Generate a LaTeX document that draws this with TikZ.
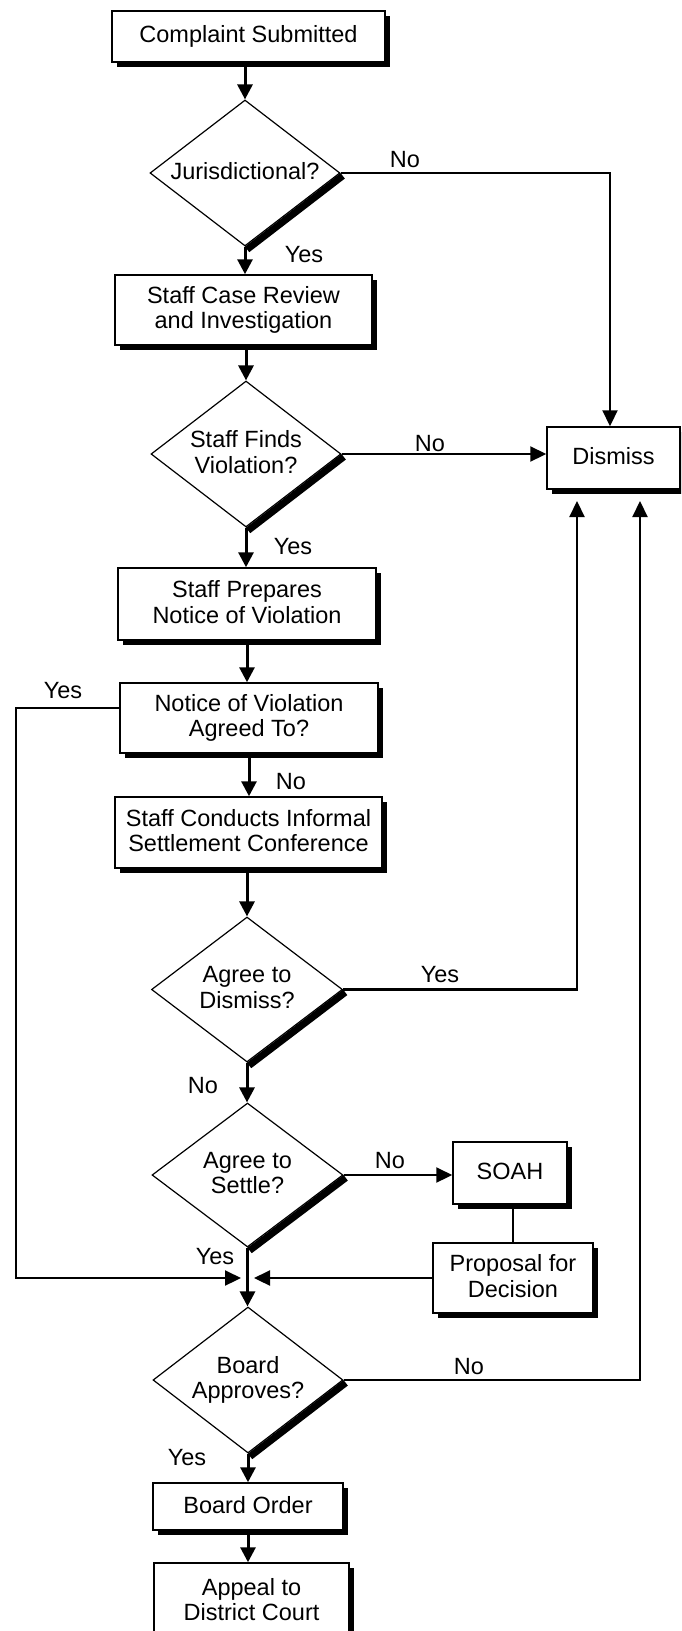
\documentclass[tikz,border=0pt]{standalone}
\usepackage{fontspec}
\setmainfont{Liberation Sans}
\usetikzlibrary{shapes.geometric,arrows.meta,shadows,calc}
\newcommand{\mystrut}{\rule[-4pt]{0pt}{20.8pt}}
\begin{document}
\begin{tikzpicture}[x=1pt,y=-1pt,
  every node/.style={font=\fontsize{23.5}{25.5}\selectfont,
    execute at begin node=\mystrut, execute at end node=\mystrut},
  box/.style={draw,line width=1.5pt,fill=white,align=center,inner sep=0pt,
    drop shadow={shadow xshift=5pt,shadow yshift=-5pt,fill=black,opacity=1}},
  dec/.style={draw,diamond,line width=1.2pt,fill=white,align=center,inner sep=0pt,aspect=1.3},
  edge6/.style={line width=7pt},
  main/.style={line width=3pt,-{Triangle[width=15pt,length=15pt]}},
  conn/.style={line width=2.2pt},
  arr/.style={-{Triangle[width=15pt,length=16pt]}},
  lbl/.style={inner sep=0pt}]
\useasboundingbox (0,0) rectangle (681,1631);
\clip (0,0) rectangle (681,1631);
\fill[white] (0,0) rectangle (681,1631);

% boxes
\node[box,minimum width=273pt,minimum height=51pt] (cs) at (248.5,36.5) {Complaint Submitted};
\node[box,minimum width=257pt,minimum height=70pt] (scr) at (243.5,310) {Staff Case Review\\and Investigation};
\node[box,minimum width=258pt,minimum height=72pt] (spn) at (247,604) {Staff Prepares\\Notice of Violation};
\node[box,minimum width=258pt,minimum height=70pt] (nva) at (249,718) {Notice of Violation\\Agreed To?};
\node[box,minimum width=267pt,minimum height=71pt] (sci) at (248.5,832.5) {Staff Conducts Informal\\Settlement Conference};
\node[box,minimum width=114pt,minimum height=62pt] (soah) at (510,1173) {SOAH};
\node[box,minimum width=160pt,minimum height=70pt] (pfd) at (513,1278) {Proposal for\\Decision};
\node[box,minimum width=190pt,minimum height=47pt] (bo) at (248,1506.5) {Board Order};
\node[box,minimum width=195pt,minimum height=77pt] (adc) at (251.5,1601.5) {Appeal to\\District Court};
\node[box,minimum width=133pt,minimum height=62pt] (dis) at (613.5,458) {Dismiss};

% diamonds
\node[dec,minimum width=190pt,minimum height=146pt] (jur) at (245,173) {Jurisdictional?};
\node[dec,minimum width=190pt,minimum height=146pt] (sfv) at (246,454) {Staff Finds\\Violation?};
\node[dec,minimum width=191pt,minimum height=145pt] (atd) at (247,989.5) {Agree to\\Dismiss?};
\node[dec,minimum width=191pt,minimum height=144pt] (ats) at (247.5,1175) {Agree to\\Settle?};
\node[dec,minimum width=190pt,minimum height=146pt] (ba) at (248,1380) {Board\\Approves?};

% thick edges on diamonds
\foreach \d in {jur,sfv,atd,ats,ba}{
  \draw[edge6] ($(\d.east)+(2.1,2.8)$) -- ($(\d.south)+(2.1,2.8)$);
}

% main flow
\draw[main] (jur.north |- cs.south) -- (jur.north);
\draw[main] (jur.south) -- (jur.south |- scr.north);
\draw[main] (sfv.north |- scr.south) -- (sfv.north);
\draw[main] (sfv.south) -- (sfv.south |- spn.north);
\draw[main] (spn.south) -- (spn.south |- nva.north);
\draw[main] (nva.south) -- (nva.south |- sci.north);
\draw[main] (atd.north |- sci.south) -- (atd.north);
\draw[main] (atd.south) -- (atd.south |- ats.north);
\draw[main] (ats.south) -- (ats.south |- ba.north);
\draw[main] (ba.south) -- (ba.south |- bo.north);
\draw[main] (bo.south) -- (bo.south |- adc.north);

% side connectors
\coordinate (dj) at (610,0);
\coordinate (da) at (577,501);
\coordinate (db) at (640,501);
\coordinate (lx) at (16,0);
\coordinate (ml) at (241,1278);
\coordinate (mr) at (254,1278);
\draw[conn,arr] (jur.east) -- (jur.east -| dj) -- (dj |- dis.north);
\draw[conn,arr] (sfv.east) -- (sfv.east -| dis.west);
\draw[conn,arr] (atd.east) -- (atd.east -| da) -- (da);
\draw[conn,arr] (ba.east) -- (ba.east -| db) -- (db);
\draw[conn,arr] ($(nva.west)+(0,-10)$) -- ($(nva.west -| lx)+(0,-10)$) -- (lx |- ml) -- (ml);
\draw[conn,arr] (pfd.west) -- (mr);
\draw[conn,arr] (ats.east) -- (ats.east -| soah.west);
\draw[conn] (pfd.north |- soah.south) -- (pfd.north);

% labels
\node[lbl] (l1) at (405,161) {No};
\node[lbl] (l2) at (304,256) {Yes};
\node[lbl] (l3) at (430,445) {No};
\node[lbl] (l4) at (293,548) {Yes};
\node[lbl] (l5) at (63,692) {Yes};
\node[lbl] (l6) at (291,783) {No};
\node[lbl] (l7) at (440,976) {Yes};
\node[lbl] (l8) at (203,1087) {No};
\node[lbl] (l9) at (390,1162) {No};
\node[lbl] (l10) at (215,1258) {Yes};
\node[lbl] (l11) at (469,1368) {No};
\node[lbl] (l12) at (187,1459) {Yes};
\end{tikzpicture}
\end{document}
